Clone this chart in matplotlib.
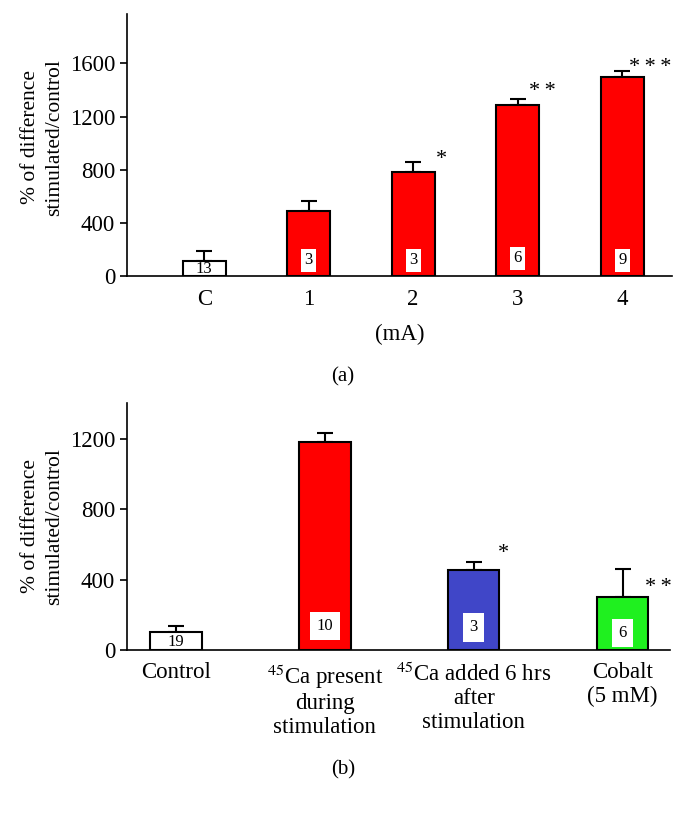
import matplotlib
matplotlib.use("Agg")
import matplotlib.pyplot as plt
import numpy as np

plt.rcParams["font.family"] = ["Liberation Serif", "DejaVu Serif"]
plt.rcParams["mathtext.fontset"] = "stix"

# panel (a): current intensity
a_labels = ["C", "1", "2", "3", "4"]
a_values = [110, 490, 785, 1290, 1497]
a_errors = [80, 75, 75, 40, 43]
a_counts = ["13", "3", "3", "6", "9"]
a_colors = ["white", "#ff0000", "#ff0000", "#ff0000", "#ff0000"]
a_stars = ["", "", "*", "*\u2009*", "*\u2009*\u2009*"]

# panel (b): calcium conditions
b_labels = ["Control", "$^{45}$Ca present\nduring\nstimulation",
            "$^{45}$Ca added 6 hrs\nafter\nstimulation", "Cobalt\n(5 mM)"]
b_values = [100, 1185, 455, 303]
b_errors = [35, 50, 47, 160]
b_counts = ["19", "10", "3", "6"]
b_colors = ["white", "#ff0000", "#4046c8", "#1ff01f"]
b_stars = ["", "", "*", "*\u2009*"]

ylab = "% of difference\nstimulated/control"


def draw(ax, labels, values, errors, counts, colors, stars, width,
         count_y, count_pad, star_xy, ymax, ticks, ylab_y):
    x = np.arange(len(values))
    ax.bar(x, values, width=width, color=colors, edgecolor="black", linewidth=1.5, zorder=2)
    ax.errorbar(x, values, yerr=[np.zeros(len(errors)), errors], fmt="none",
                ecolor="black", elinewidth=1.5, capsize=5.5, capthick=1.5, zorder=1)
    for i, (c, col) in enumerate(zip(counts, colors)):
        if col == "white":
            ax.text(x[i], count_y[i], c, ha="center", va="center", fontsize=12)
        else:
            ax.text(x[i], count_y[i], c, ha="center", va="center", fontsize=12,
                    bbox=dict(facecolor="white", edgecolor="none", pad=count_pad))
    for s, pos in zip(stars, star_xy):
        if s:
            ax.text(pos[0], pos[1], s, ha="left", va="center", fontsize=16)
    ax.set_ylim(0, ymax)
    ax.set_yticks(ticks)
    ax.set_xticks(x)
    ax.set_xticklabels(labels)
    for sp in ["top", "right"]:
        ax.spines[sp].set_visible(False)
    ax.spines["left"].set_linewidth(1.2)
    ax.spines["bottom"].set_linewidth(1.2)
    ax.tick_params(axis="y", labelsize=16.5, length=5, width=1.2)
    ax.tick_params(axis="x", labelsize=16.5, length=0, pad=9)
    ax.text(-0.155, ylab_y, ylab, transform=ax.transAxes, rotation=90,
            ha="center", va="center", fontsize=15.5, linespacing=1.35)


fig = plt.figure(figsize=(6.86, 8.13), dpi=100)

ax1 = fig.add_axes([0.185, 0.6605, 0.795, 0.322])
draw(ax1, a_labels, a_values, a_errors, a_counts, a_colors, a_stars, 0.41,
     [53, 120, 120, 135, 120], 2.5,
     [None, None, (2.22, 880), (3.11, 1390), (4.07, 1570)],
     1970, [0, 400, 800, 1200, 1600], 0.53)
ax1.set_xlim(-0.74, 4.48)
ax1.set_xlabel("(mA)", fontsize=16.5, labelpad=10)
fig.text(0.5, 1 - 377 / 813, "(a)", ha="center", va="center", fontsize=15)

ax2 = fig.add_axes([0.185, 0.2005, 0.792, 0.304])
draw(ax2, b_labels, b_values, b_errors, b_counts, b_colors, b_stars, 0.345,
     [45, 137, 128, 97], 4.5,
     [None, None, (2.16, 550), (3.15, 355)],
     1405, [0, 400, 800, 1200], 0.5)
ax2.set_xlim(-0.33, 3.32)
for t in ax2.get_xticklabels():
    t.set_linespacing(1.13)
ax2.tick_params(axis="x", pad=9)
fig.text(0.5, 1 - 770 / 813, "(b)", ha="center", va="center", fontsize=15)

fig.savefig("out.png", dpi=100)
